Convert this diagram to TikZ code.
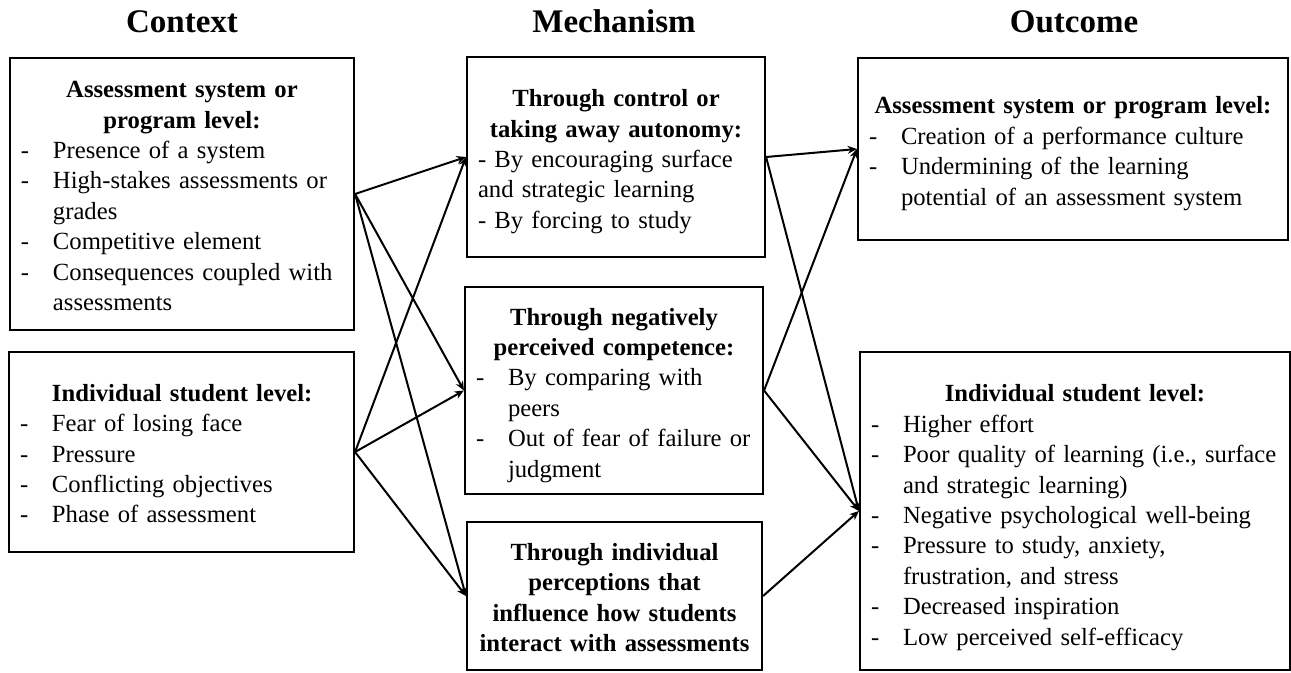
\documentclass[tikz,border=0pt]{standalone}
\usepackage{fontspec}
\setmainfont{Liberation Serif}
\usetikzlibrary{arrows.meta}
\setlength\parindent{0pt}
\newcommand\hd[1]{\par{\centering\bfseries #1\par}}
\newcommand\dl[1]{\par\noindent\makebox[24pt][l]{-}\mbox{#1}}
\newcommand\cl[1]{\par\noindent\hspace*{24pt}\mbox{#1}}
\newcommand\pl[1]{\par\noindent\mbox{#1}}
\newcommand\bsp[1]{\par\kern#1\relax}
\tikzset{
  box/.style={draw, line width=1.6pt, inner ysep=0pt, inner xsep=8.25pt,
    font=\fontsize{18.5pt}{22.8pt}\selectfont},
  title/.style={font=\fontsize{24.75pt}{28pt}\selectfont\bfseries, inner sep=0pt},
  arr/.style={line width=1.5pt, -{Stealth[length=7pt,width=6pt]}}
}
\begin{document}
\begin{tikzpicture}[x=0.75pt,y=-0.75pt]
\useasboundingbox (0,0) rectangle (1291,673);
% titles
\node[title, anchor=base] (tc) at (182,33) {Context};
\node[title, anchor=base] (tm) at (614,33) {Mechanism};
\node[title, anchor=base] (to) at (1074,33) {Outcome};
% context
\node[box, text width=241.5pt, minimum height=204pt] (c1) at (182,194) {%
\hd{Assessment system or\\program level:}%
\dl{Presence of a system}%
\dl{High-stakes assessments or}%
\cl{grades}%
\dl{Competitive element}%
\dl{Consequences coupled with}%
\cl{assessments}\bsp{7.5pt}};
\node[box, text width=242.25pt, minimum height=150pt] (c2) at (181.5,452) {%
\cl{\textbf{Individual student level:}}%
\dl{Fear of losing face}%
\dl{Pressure}%
\dl{Conflicting objectives}%
\dl{Phase of assessment}\bsp{7.5pt}};
% mechanism
\node[box, text width=207pt, minimum height=150pt] (m1) at (616,157) {%
\hd{Through control or\\taking away autonomy:}%
\pl{- By encouraging surface}%
\pl{and strategic learning}%
\pl{- By forcing to study}\bsp{3pt}};
\node[box, text width=207pt, minimum height=155.25pt] (m2) at (614,390.5) {%
\hd{Through negatively\\perceived competence:}%
\dl{By comparing with}%
\cl{peers}%
\dl{Out of fear of failure or}%
\cl{judgment}\bsp{3pt}};
\node[box, text width=213.75pt, inner xsep=3.75pt, minimum height=111pt] (m3) at (614.5,596) {%
\hd{Through individual\\perceptions that\\influence how students\\interact with assessments}\bsp{7.5pt}};
% outcome
\node[box, text width=306pt, minimum height=136.5pt] (o1) at (1073,149) {%
\hd{Assessment system or program level:}%
\dl{Creation of a performance culture}%
\dl{Undermining of the learning}%
\cl{potential of an assessment system}\bsp{3pt}};
\node[box, text width=306pt, minimum height=238.5pt] (o2) at (1075,511) {%
\hd{Individual student level:}%
\dl{Higher effort}%
\dl{Poor quality of learning (i.e., surface}%
\cl{and strategic learning)}%
\dl{Negative psychological well-being}%
\dl{Pressure to study, anxiety,}%
\cl{frustration, and stress}%
\dl{Decreased inspiration}%
\dl{Low perceived self-efficacy}\par};
% connectors
\draw[arr] (c1.east) -- (m1.west);
\draw[arr] (c1.east) -- (m2.west);
\draw[arr] (c1.east) -- (m3.west);
\draw[arr] (c2.east) -- (m1.west);
\draw[arr] (c2.east) -- (m2.west);
\draw[arr] (c2.east) -- (m3.west);
\draw[arr] (m1.east) -- (o1.west);
\draw[arr] (m1.east) -- (o2.west);
\draw[arr] (m2.east) -- (o1.west);
\draw[arr] (m2.east) -- (o2.west);
\draw[arr] (m3.east) -- (o2.west);
\end{tikzpicture}
\end{document}
